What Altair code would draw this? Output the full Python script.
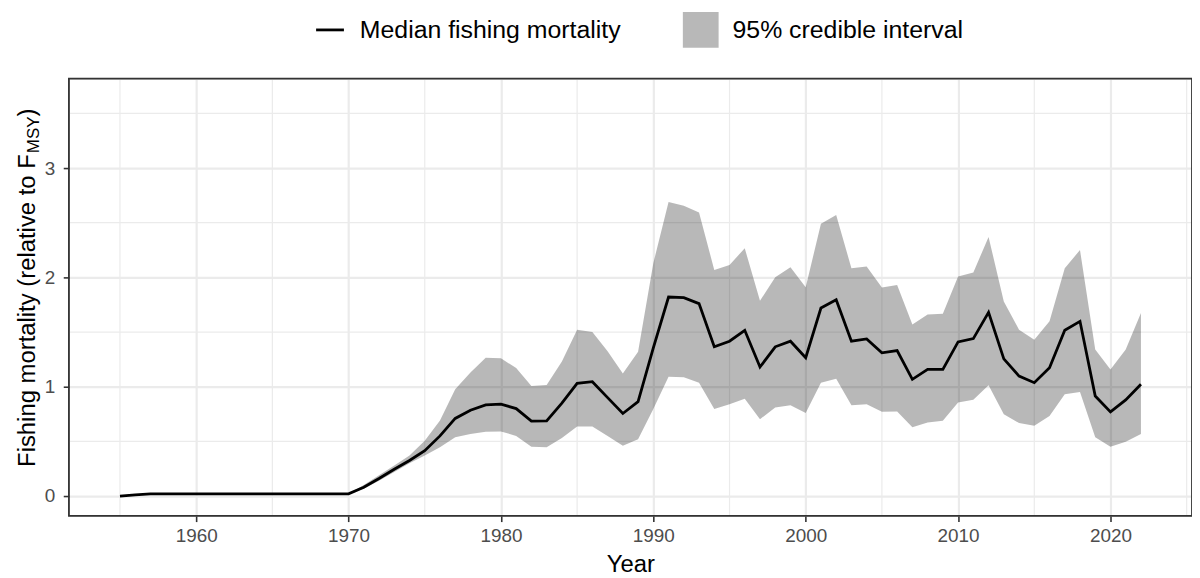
import altair as alt
import pandas as pd

years = list(range(1955, 2023))

median = [0.00, 0.01] + [0.02] * 13 + [0.02,
          0.08, 0.16, 0.245, 0.325, 0.415, 0.55, 0.71, 0.785, 0.834, 0.84,
          0.80, 0.685, 0.687, 0.85, 1.03, 1.046, 0.90, 0.755, 0.864, 1.356,
          1.82, 1.815, 1.76, 1.365, 1.416, 1.516, 1.18, 1.365, 1.416, 1.265,
          1.72, 1.795, 1.416, 1.437, 1.31, 1.33, 1.067, 1.158, 1.158, 1.41,
          1.44, 1.68, 1.255, 1.097, 1.037, 1.174, 1.516, 1.598, 0.915, 0.77,
          0.879, 1.022]

lower = [0.00, 0.01] + [0.02] * 13 + [0.02,
         0.066, 0.14, 0.22, 0.30, 0.37, 0.445, 0.537, 0.567, 0.588, 0.59,
         0.55, 0.45, 0.445, 0.53, 0.635, 0.637, 0.55, 0.46, 0.52, 0.795,
         1.09, 1.087, 1.037, 0.795, 0.84, 0.89, 0.703, 0.81, 0.83, 0.76,
         1.037, 1.073, 0.83, 0.84, 0.77, 0.773, 0.628, 0.673, 0.688, 0.855,
         0.88, 1.013, 0.749, 0.667, 0.642, 0.733, 0.93, 0.952, 0.537, 0.451,
         0.497, 0.567]

upper = [0.00, 0.01] + [0.02] * 13 + [0.02,
         0.10, 0.19, 0.28, 0.37, 0.505, 0.69, 0.976, 1.13, 1.265, 1.26,
         1.17, 1.006, 1.015, 1.23, 1.52, 1.50, 1.325, 1.12, 1.32, 2.13,
         2.69, 2.655, 2.593, 2.068, 2.114, 2.266, 1.786, 2.0, 2.093, 1.91,
         2.49, 2.57, 2.084, 2.10, 1.907, 1.93, 1.568, 1.66, 1.668, 2.007,
         2.044, 2.37, 1.78, 1.522, 1.43, 1.598, 2.084, 2.25, 1.34, 1.158,
         1.34, 1.674]

x_ticks = [1960, 1970, 1980, 1990, 2000, 2010, 2020]
x_minor = [1955, 1965, 1975, 1985, 1995, 2005, 2015, 2025]
y_ticks = [0, 1, 2, 3]
y_minor = [0.5, 1.5, 2.5, 3.5]

legend_labels = ["Median fishing mortality", "95% credible interval"]
y_title_main = "Fishing mortality (relative to F"
y_title_sub = "MSY"
y_title_end = ")"
x_title = "Year"

FONT = "Liberation Sans"
W, H = 1130, 440

df = pd.DataFrame({"year": years, "median": median, "lower": lower, "upper": upper})

xs = alt.Scale(domain=[1951.65, 2025.35], nice=False, zero=False)
ys = alt.Scale(domain=[-0.182, 3.818], nice=False, zero=False)

xaxis = alt.Axis(values=x_ticks, format="d", title=x_title, grid=True,
                 gridColor="#EBEBEB", gridWidth=2.2,
                 tickColor="#333333", tickWidth=1.6, tickSize=5.7,
                 labelFont=FONT, labelFontSize=19, labelColor="#4D4D4D",
                 labelPadding=5, domain=False,
                 titleFont=FONT, titleFontSize=24, titleFontWeight="normal",
                 titleColor="black", titleBaseline="alphabetic", titleY=56)
yaxis = alt.Axis(values=y_ticks, format="d", title=None, grid=True,
                 gridColor="#EBEBEB", gridWidth=2.2,
                 tickColor="#333333", tickWidth=1.6, tickSize=5.7,
                 labelFont=FONT, labelFontSize=19, labelColor="#4D4D4D",
                 labelPadding=8.5, domain=False)

minor_x = alt.Chart(pd.DataFrame({"v": x_minor})).mark_rule(
    color="#EBEBEB", strokeWidth=1.2).encode(x=alt.X("v:Q", scale=xs))
minor_y = alt.Chart(pd.DataFrame({"v": y_minor})).mark_rule(
    color="#EBEBEB", strokeWidth=1.2).encode(y=alt.Y("v:Q", scale=ys))

band = alt.Chart(df).mark_area(color="black", opacity=0.28).encode(
    x=alt.X("year:Q", scale=xs, axis=xaxis),
    y=alt.Y("lower:Q", scale=ys, axis=yaxis),
    y2="upper:Q")

line = alt.Chart(df).mark_line(color="black", strokeWidth=2.8).encode(
    x=alt.X("year:Q", scale=xs),
    y=alt.Y("median:Q", scale=ys))

one = pd.DataFrame({"a": [0]})

border = alt.Chart(one).mark_rect(fill=None, stroke="#333333", strokeWidth=1.8).encode(
    x=alt.value(0), x2=alt.value(W), y=alt.value(0), y2=alt.value(H))

# legend
LEG_Y = -49
leg_line = alt.Chart(one).mark_rule(color="black", strokeWidth=2.8).encode(
    x=alt.value(248.7), x2=alt.value(276.7), y=alt.value(LEG_Y))
leg_box = alt.Chart(one).mark_rect(color="black", opacity=0.28).encode(
    x=alt.value(617.7), x2=alt.value(653.7), y=alt.value(LEG_Y - 18), y2=alt.value(LEG_Y + 18))
leg_t1 = alt.Chart(one).mark_text(font=FONT, fontSize=25, align="left", baseline="middle",
                                  color="black", text=legend_labels[0]).encode(
    x=alt.value(292.7), y=alt.value(LEG_Y))
leg_t2 = alt.Chart(one).mark_text(font=FONT, fontSize=25, align="left", baseline="middle",
                                  color="black", text=legend_labels[1]).encode(
    x=alt.value(667.7), y=alt.value(LEG_Y))

# y title with subscript
TX = -34.5
yt1 = alt.Chart(one).mark_text(font=FONT, fontSize=24, angle=270, align="left",
                               baseline="alphabetic", color="black", text=y_title_main).encode(
    x=alt.value(TX), y=alt.value(390.7))
yt2 = alt.Chart(one).mark_text(font=FONT, fontSize=17, angle=270, align="left",
                               baseline="alphabetic", color="black", text=y_title_sub).encode(
    x=alt.value(TX + 4), y=alt.value(75))
yt3 = alt.Chart(one).mark_text(font=FONT, fontSize=24, angle=270, align="left",
                               baseline="alphabetic", color="black", text=y_title_end).encode(
    x=alt.value(TX), y=alt.value(38))

chart = alt.layer(minor_x, minor_y, band, line, border,
                  leg_line, leg_box, leg_t1, leg_t2, yt1, yt2, yt3).properties(
    width=W, height=H,
    padding={"left": 61.3, "top": 69.3, "right": 0, "bottom": 60},
    autosize=alt.AutoSizeParams(type="none"),
).configure_view(stroke=None).configure(background="white")

chart.save("out.html", embed_options={"renderer": "svg", "actions": False})
